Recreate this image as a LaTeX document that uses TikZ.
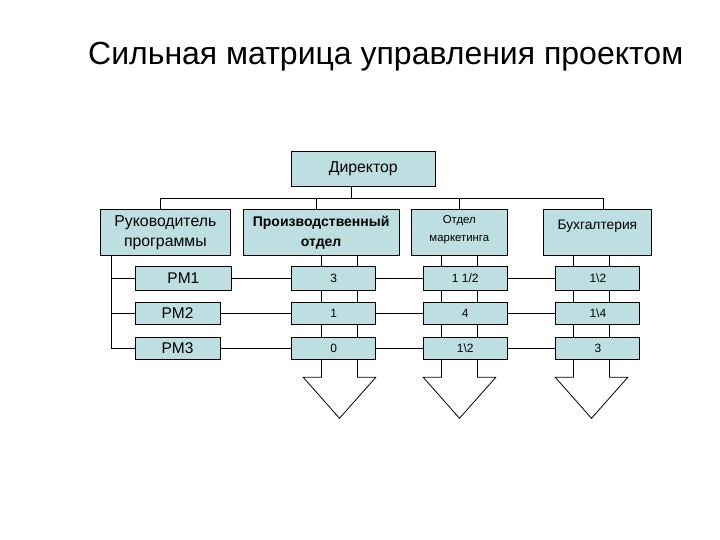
\documentclass[tikz,border=0pt]{standalone}
\usepackage{fontspec}
\setmainfont{Liberation Sans}
\usetikzlibrary{backgrounds}
\definecolor{boxfill}{RGB}{190,223,226}
\begin{document}
\begin{tikzpicture}[x=1pt,y=-1pt,
  box/.style={draw=black, line width=0.8pt, fill=boxfill, inner sep=0pt, align=center},
  conn/.style={draw=black, line width=0.8pt},
  rowone/.style={box, minimum height=45.7pt},
  pmbox/.style={box, font=\fontsize{15.5}{18}\selectfont},
  cell/.style={box, minimum width=84pt, font=\fontsize{12}{14}\selectfont},
  r1/.style={minimum height=23.3pt},
  r2/.style={minimum height=22pt}]
\useasboundingbox (0,0) rectangle (720,540);
\node[anchor=base west, inner sep=0pt, font=\fontsize{32}{38}\selectfont] (title) at (88,65) {Сильная матрица управления проектом};

\node[box, minimum width=143.3pt, minimum height=35pt, font=\fontsize{15.8}{18}\selectfont] (dir) at (363.3,168.5) {Директор};

\node[rowone, minimum width=130.7pt, text depth=2pt, font=\fontsize{15.8}{20}\selectfont] (ruk) at (165.35,232.2) {Руководитель\\программы};
\node[rowone, minimum width=156.3pt, font=\bfseries\fontsize{14}{20}\selectfont] (prod) at (321.15,232.2) {Производственный\\отдел};
\node[rowone, minimum width=95.3pt, text depth=8pt, font=\fontsize{11.4}{18}\selectfont] (mkt) at (459.35,232.2) {Отдел\\маркетинга};
\node[rowone, minimum width=108.7pt, text depth=14pt, font=\fontsize{13.8}{16}\selectfont] (buh) at (597.35,232.2) {Бухгалтерия};

\node[pmbox, r1, minimum width=96.7pt] (pm1) at (183.35,278.35) {PM1};
\node[pmbox, r2, minimum width=85pt] (pm2) at (177.5,313.3) {PM2};
\node[pmbox, r2, minimum width=85pt] (pm3) at (177.5,348.3) {PM3};

\node[cell, r1] (c21) at (333.7,278.35) {3};
\node[cell, r1] (c31) at (465.3,278.35) {1 1/2};
\node[cell, r1] (c41) at (597.85,278.35) {1\textbackslash 2};
\node[cell, r2] (c22) at (333.7,313.3) {1};
\node[cell, r2] (c32) at (465.3,313.3) {4};
\node[cell, r2] (c42) at (597.85,313.3) {1\textbackslash 4};
\node[cell, r2] (c23) at (333.7,348.3) {0};
\node[cell, r2] (c33) at (465.3,348.3) {1\textbackslash 2};
\node[cell, r2] (c43) at (597.85,348.3) {3};

\coordinate (bd) at (351.7,198.3);
\coordinate (b1) at (160,198.3);
\coordinate (b2) at (316,198.3);
\coordinate (b3) at (459,198.3);
\coordinate (b4) at (603,198.3);
\coordinate (lx) at (111.7,0);

\draw[conn] (b1) -- (b4);
\draw[conn] (bd) -- (bd |- dir.south);
\draw[conn] (b1) -- (b1 |- ruk.north);
\draw[conn] (b2) -- (b2 |- prod.north);
\draw[conn] (b3) -- (b3 |- mkt.north);
\draw[conn] (b4) -- (b4 |- buh.north);

\draw[conn] (lx |- ruk.south) -- (lx |- pm3.west) -- (pm3.west);
\draw[conn] (lx |- pm1.west) -- (pm1.west);
\draw[conn] (lx |- pm2.west) -- (pm2.west);

\draw[conn] (pm1.east) -- (c21.west) (c21.east) -- (c31.west) (c31.east) -- (c41.west);
\draw[conn] (pm2.east) -- (c22.west) (c22.east) -- (c32.west) (c32.east) -- (c42.west);
\draw[conn] (pm3.east) -- (c23.west) (c23.east) -- (c33.west) (c33.east) -- (c43.west);

\begin{scope}[on background layer]
\foreach \t/\x in {prod/339.5, mkt/459.5, buh/591.5} {
  \pgfmathsetmacro\xl{\x-18}
  \pgfmathsetmacro\xr{\x+18}
  \pgfmathsetmacro\wl{\x-36.3}
  \pgfmathsetmacro\wr{\x+36.3}
  \draw[conn] (\xl,0 |- \t.south) -- (\xl,377.3) -- (\wl,377.3) -- (\x,418.3) -- (\wr,377.3) -- (\xr,377.3) -- (\xr,0 |- \t.south);
}
\end{scope}
\end{tikzpicture}
\end{document}
